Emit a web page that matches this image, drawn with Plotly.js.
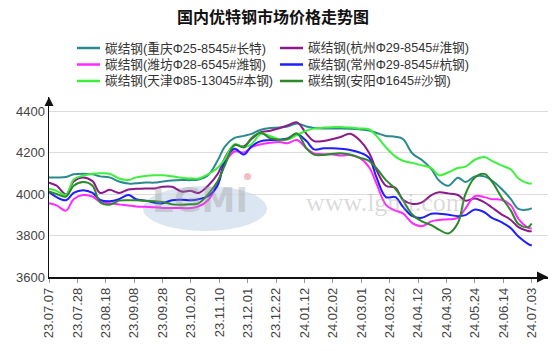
<!DOCTYPE html>
<html><head><meta charset="utf-8">
<script src="https://cdn.plot.ly/plotly-3.0.1.min.js"></script>
<style>html,body{margin:0;padding:0;background:#fff}#chart{width:554px;height:351px}</style>
</head><body><div id="chart"></div>
<script>
const chartTitle = '国内优特钢市场价格走势图';
// trading-day index of each sampled point
const dayIndex = [0,4,9,13,18,23,27,32,37,42,46,51,56,60,65,70,75,79,84,89,93,98,103,107,112,117,122,126,131,136,140,145,150,154,159,164,169,173,178,183,187,192,197,202,206,211,216,220,225,230,234,239,244,248,253,255];
const tickIndex = [0,15,30,45,60,75,90,105,120,135,150,165,180,195,210,225,240,255];
const tickLabels = ['23.07.07','23.07.28','23.08.18','23.09.08','23.09.28','23.10.20','23.11.10','23.12.01','23.12.22','24.01.12','24.02.02','24.03.01','24.03.22','24.04.12','24.04.30','24.05.24','24.06.14','24.07.03'];
const yTicks = [3600,3800,4000,4200,4400];

const seriesNames = ['碳结钢(重庆Φ25-8545#长特)','碳结钢(杭州Φ29-8545#淮钢)','碳结钢(潍坊Φ28-6545#潍钢)','碳结钢(常州Φ29-8545#杭钢)','碳结钢(天津Φ85-13045#本钢)','碳结钢(安阳Φ1645#沙钢)'];
const seriesColors = ['#2a8a8c','#8b1a8b','#ff2aff','#1e1eff','#3cf03c','#2a8a2a'];

const chongqing = [4080,4080,4082,4095,4098,4095,4085,4080,4060,4050,4052,4055,4055,4060,4065,4067,4067,4070,4090,4160,4230,4270,4280,4290,4310,4318,4320,4325,4340,4325,4318,4316,4316,4316,4315,4312,4306,4294,4280,4276,4265,4195,4164,4120,4065,4040,4078,4058,4085,4085,4065,4025,3975,3928,3925,3932];
const hangzhou = [4055,4040,3998,4060,4080,4062,4005,4020,4005,4022,4025,4027,4027,4035,4035,4012,4015,4005,4040,4095,4175,4236,4230,4265,4298,4305,4318,4330,4345,4290,4255,4255,4265,4275,4290,4260,4200,4115,4040,4030,3972,3952,3960,3995,4008,4003,3995,3968,3978,3960,3935,3902,3875,3840,3822,3821];
const weifang = [3955,3945,3920,3975,3995,3988,3962,3955,3950,3945,3940,3938,3936,3933,3932,3932,3932,3940,3970,4050,4150,4205,4200,4225,4240,4247,4250,4245,4260,4220,4196,4192,4190,4185,4188,4175,4130,4050,3948,3920,3907,3860,3845,3868,3875,3878,3885,3930,3990,3985,3975,3972,3945,3880,3838,3834];
const changzhou = [4010,3985,3970,4005,4018,4005,3972,3965,3975,3995,3975,3968,3958,3955,3970,3972,3970,3975,3990,4040,4160,4218,4190,4230,4255,4260,4262,4268,4289,4255,4215,4220,4220,4218,4212,4200,4175,4080,3985,3985,3938,3893,3885,3905,3905,3900,3893,3898,3925,3912,3885,3865,3835,3795,3760,3752];
const tianjin = [4025,4015,3995,4070,4088,4098,4100,4098,4075,4068,4080,4087,4090,4090,4085,4078,4075,4075,4095,4125,4170,4240,4225,4240,4290,4278,4262,4262,4285,4305,4315,4320,4322,4323,4320,4316,4312,4280,4225,4180,4160,4150,4138,4125,4090,4105,4125,4132,4165,4178,4160,4138,4118,4075,4052,4051];
const anyang = [4012,4000,3988,4040,4058,4040,3960,3948,3968,3970,3970,3968,3965,3962,3950,3948,3950,3955,3998,4060,4140,4236,4225,4270,4295,4268,4262,4265,4292,4220,4190,4188,4194,4196,4190,4175,4160,4124,4067,4025,3970,3900,3868,3850,3828,3810,3860,4000,4080,4097,4060,3985,3920,3855,3840,3858];
const seriesValues = [chongqing, hangzhou, weifang, changzhou, tianjin, anyang];

const W = 554, H = 351;
const M = {l: 49, r: 6, t: 97, b: 74};
const PW = W - M.l - M.r, PH = H - M.t - M.b;
const px = x => (x - M.l) / PW;
const py = y => (M.t + PH - y) / PH;

const traces = seriesValues.map((vals, i) => ({
  type: 'scatter', mode: 'lines', name: seriesNames[i],
  x: dayIndex, y: vals,
  line: {color: seriesColors[i], width: 2, shape: 'spline', smoothing: 1},
  hoverinfo: 'skip', showlegend: false
}));

const shapes = [
  // watermark ellipse
  {type: 'circle', xref: 'paper', yref: 'paper', x0: px(143), x1: px(267), y0: py(231), y1: py(186),
   fillcolor: 'rgba(190,210,232,0.55)', line: {width: 0}, layer: 'below'},
  {type: 'circle', xref: 'paper', yref: 'paper', x0: px(244), x1: px(251), y0: py(180), y1: py(173),
   fillcolor: 'rgba(240,160,170,0.7)', line: {width: 0}, layer: 'below'},
  // axis arrows
  {type: 'path', xref: 'paper', yref: 'paper', xsizemode: 'pixel', ysizemode: 'pixel', xanchor: 0, yanchor: 1,
   path: 'M -4.5 -9 L 4.5 -9 L 0 0 Z', fillcolor: '#111', line: {width: 0}},
  {type: 'path', xref: 'paper', yref: 'paper', xsizemode: 'pixel', ysizemode: 'pixel', xanchor: 1, yanchor: 0,
   path: 'M -11 5.5 L -11 -5.5 L 0 0 Z', fillcolor: '#111', line: {width: 0}}
];

const annotations = [
  {xref: 'paper', yref: 'paper', x: px(150), y: py(200), xanchor: 'left', yanchor: 'middle', text: 'LGMI', showarrow: false,
   font: {family: 'DejaVu Sans', size: 34, color: 'rgba(150,150,150,0.35)', weight: 'bold'}},
  {xref: 'paper', yref: 'paper', x: px(304), y: py(202), xanchor: 'left', yanchor: 'middle', text: 'www.lgmi.com', showarrow: false,
   font: {family: 'Liberation Serif', size: 26, color: 'rgba(150,150,150,0.35)'}}
];

// legend drawn as line shapes + texts, two columns
const legCols = [77, 280], legRows = [48, 64.5, 81];
seriesNames.forEach((name, i) => {
  const c = legCols[i % 2], r = legRows[Math.floor(i / 2)];
  shapes.push({type: 'line', xref: 'paper', yref: 'paper', x0: px(c), x1: px(c + 23), y0: py(r), y1: py(r),
    line: {color: seriesColors[i], width: 2.5}});
  annotations.push({xref: 'paper', yref: 'paper', x: px(c + 27), y: py(r), xanchor: 'left', yanchor: 'middle',
    text: name, showarrow: false, borderpad: 0,
    font: {family: 'Liberation Sans, Noto Sans CJK SC', size: 12.7, color: '#333'}});
});

const layout = {
  width: W, height: H, margin: M,
  paper_bgcolor: '#fff', plot_bgcolor: '#fff',
  title: {text: chartTitle, x: 273 / W, xanchor: 'center', y: 1 - 17 / H, yanchor: 'middle', yref: 'container',
    font: {family: 'Noto Sans CJK SC', size: 16, color: '#111', weight: 'bold'}},
  xaxis: {range: [0, PW / 1.893], tickmode: 'array', tickvals: tickIndex, ticktext: tickLabels, tickangle: -90,
    ticks: 'outside', ticklen: 4, tickcolor: '#999', showgrid: false, zeroline: false,
    showline: true, linecolor: '#111', linewidth: 1.5,
    tickfont: {family: 'Liberation Sans', size: 13, color: '#444'}},
  yaxis: {range: [3600, 3600 + PH / (166 / 800)], tickmode: 'array', tickvals: yTicks,
    showgrid: true, gridcolor: '#dcdcdc', gridwidth: 1, zeroline: false, ticks: '',
    showline: true, linecolor: '#111', linewidth: 1.5,
    tickfont: {family: 'Liberation Sans', size: 13, color: '#444'}},
  shapes, annotations, showlegend: false
};
Plotly.newPlot('chart', traces, layout, {staticPlot: true, displayModeBar: false});
</script></body></html>
